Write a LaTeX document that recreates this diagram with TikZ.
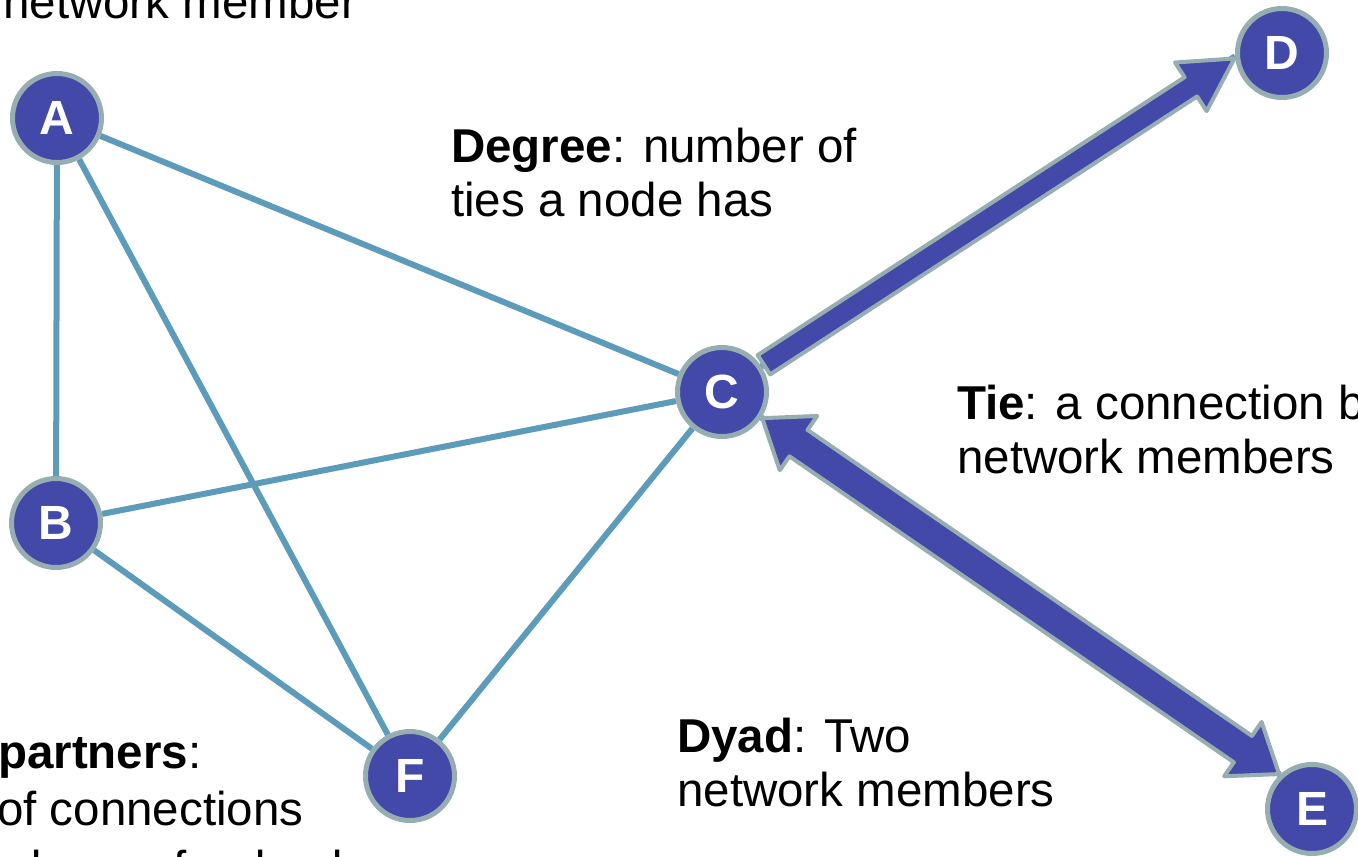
\documentclass[tikz,border=0pt]{standalone}
\usepackage{fontspec}
\setmainfont{Liberation Sans}
\usetikzlibrary{calc}

\definecolor{nodefill}{RGB}{67,73,168}
\definecolor{nodering}{RGB}{150,174,178}
\definecolor{tieblue}{RGB}{92,155,185}

\begin{document}
\begin{tikzpicture}[x=1pt,y=-1pt,
  member/.style={circle, fill=nodefill, draw=nodering, line width=5pt,
    minimum size=89pt, inner sep=0pt, text=white,
    font=\bfseries\fontsize{48}{48}\selectfont},
  tie/.style={draw=tieblue, line width=6pt},
  blockarrow/.style={fill=nodefill, draw=nodering, line width=4pt, line join=round},
  caption/.style={anchor=base west, inner sep=0pt,
    font=\fontsize{47.5}{54}\selectfont}]

\useasboundingbox (0,0) rectangle (1358,857);
\clip (0,0) rectangle (1358,857);

% network members
\node[member] (A) at (57,118) {A};
\node[member] (B) at (56,523) {B};
\node[member] (C) at (722,392) {C};
\node[member] (D) at (1282,53) {D};
\node[member] (E) at (1312,809) {E};
\node[member] (F) at (410,776) {F};

% ties
\draw[tie] (A) -- (B);
\draw[tie] (A) -- (C);
\draw[tie] (A) -- (F);
\draw[tie] (B) -- (C);
\draw[tie] (B) -- (F);
\draw[tie] (C) -- (F);
\draw[tie] (C.33) -- (D.184);
\draw[tie] (C.327) -- (E.133);

% one-way arrow C -> D
\coordinate (cdS) at ($(C.33)!3pt!(D.186)$);
\coordinate (cdT) at ($(D.186)!1pt!(C.33)$);
\coordinate (cdN) at ($(cdT)!52pt!(cdS)$);
\path[blockarrow]
  ($(cdS)!11.5pt!90:(cdT)$) -- ($(cdN)!11.5pt!90:(cdT)$) -- ($(cdN)!29pt!90:(cdT)$)
  -- (cdT)
  -- ($(cdN)!29pt!-90:(cdT)$) -- ($(cdN)!11.5pt!-90:(cdT)$) -- ($(cdS)!11.5pt!-90:(cdT)$)
  -- cycle;

% two-way arrow C <-> E
\coordinate (ceA) at ($(C.327)!1pt!(E.133)$);
\coordinate (ceB) at ($(E.133)!1pt!(C.327)$);
\coordinate (ceNA) at ($(ceA)!44pt!(ceB)$);
\coordinate (ceNB) at ($(ceB)!44pt!(ceA)$);
\path[blockarrow]
  (ceA)
  -- ($(ceNA)!33pt!90:(ceB)$) -- ($(ceNA)!16pt!90:(ceB)$)
  -- ($(ceNB)!16pt!-90:(ceA)$) -- ($(ceNB)!33pt!-90:(ceA)$)
  -- (ceB)
  -- ($(ceNB)!33pt!90:(ceA)$) -- ($(ceNB)!16pt!90:(ceA)$)
  -- ($(ceNA)!16pt!-90:(ceB)$) -- ($(ceNA)!33pt!-90:(ceB)$)
  -- cycle;

% captions
\node[caption] (nodeline) at (3,18) {network member};

\node[caption] (deg1) at (451,162) {\textbf{Degree}: number of};
\node[caption] (deg2) at (451,216) {ties a node has};

\node[caption] (tie1) at (957,419) {\textbf{Tie}: a connection between};
\node[caption] (tie2) at (957,473) {network members};

\node[caption] (dyad1) at (677,752) {\textbf{Dyad}: Two};
\node[caption] (dyad2) at (677,806) {network members};

\node[caption] (part1) at (-2,768) {\textbf{partners}:};
\node[caption] (part2) at (-3,825) {of connections};
\node[caption] (part3) at (-38,884) {and one of a dyad};

\end{tikzpicture}
\end{document}
